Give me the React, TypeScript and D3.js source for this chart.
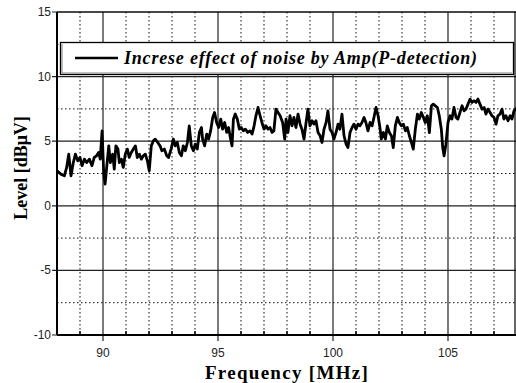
import { useRef, useEffect } from "react";
import * as d3 from "d3";

// Frequency [MHz] and level [dBµV]
const freq = [
  88.0, 88.17, 88.32, 88.42, 88.51, 88.61, 88.71, 88.80, 88.90, 89.0,
  89.09, 89.19, 89.29, 89.41, 89.52, 89.62, 89.72, 89.81, 89.88, 89.96,
  90.03, 90.09, 90.16, 90.25, 90.32, 90.42, 90.49, 90.56, 90.65, 90.71,
  90.80, 90.88, 90.97, 91.06, 91.14, 91.23, 91.32, 91.41, 91.49, 91.58,
  91.67, 91.75, 91.84, 91.93, 92.01, 92.10, 92.19, 92.27, 92.38, 92.48,
  92.56, 92.67, 92.77, 92.85, 92.96, 93.06, 93.14, 93.23, 93.32, 93.41,
  93.49, 93.58, 93.67, 93.75, 93.84, 93.93, 94.01, 94.10, 94.19, 94.28,
  94.33, 94.42, 94.51, 94.59, 94.68, 94.77, 94.85, 94.94, 95.03, 95.12,
  95.20, 95.29, 95.38, 95.46, 95.55, 95.61, 95.67, 95.75, 95.84, 95.93,
  96.01, 96.10, 96.19, 96.29, 96.39, 96.48, 96.57, 96.65, 96.74, 96.83,
  96.91, 97.0, 97.09, 97.17, 97.26, 97.35, 97.43, 97.52, 97.61, 97.70,
  97.81, 97.90, 97.96, 98.04, 98.13, 98.22, 98.30, 98.39, 98.48, 98.57,
  98.65, 98.74, 98.83, 98.91, 99.0, 99.09, 99.17, 99.26, 99.35, 99.44,
  99.52, 99.61, 99.70, 99.78, 99.87, 99.96, 100.04, 100.13, 100.22, 100.30,
  100.39, 100.48, 100.57, 100.65, 100.74, 100.83, 100.91, 101.0, 101.09, 101.17,
  101.26, 101.35, 101.43, 101.52, 101.61, 101.70, 101.78, 101.87, 101.96, 102.04,
  102.10, 102.19, 102.28, 102.36, 102.45, 102.54, 102.62, 102.71, 102.80, 102.88,
  102.97, 103.06, 103.15, 103.23, 103.32, 103.41, 103.49, 103.58, 103.67, 103.75,
  103.84, 103.93, 104.01, 104.10, 104.19, 104.28, 104.36, 104.45, 104.54, 104.62,
  104.71, 104.77, 104.83, 104.91, 105.0, 105.09, 105.17, 105.26, 105.35, 105.43,
  105.52, 105.61, 105.70, 105.78, 105.87, 105.96, 106.04, 106.13, 106.22, 106.30,
  106.39, 106.48, 106.57, 106.65, 106.74, 106.83, 106.91, 107.0, 107.09, 107.17,
  107.26, 107.35, 107.43, 107.52, 107.61, 107.70, 107.78, 107.87, 108.0,
];
const level = [
  2.71, 2.45, 2.32, 2.97, 4.0, 2.32, 3.35, 4.0, 3.48, 3.74,
  3.10, 3.61, 3.35, 3.61, 3.10, 3.74, 3.87, 4.13, 3.61, 5.80,
  2.58, 1.68, 2.97, 4.64, 3.35, 4.0, 2.84, 4.64, 4.39, 3.35,
  3.61, 2.97, 4.0, 4.39, 3.74, 4.13, 4.39, 4.64, 3.74, 4.0,
  3.61, 3.87, 4.0, 3.48, 2.71, 4.64, 5.03, 5.16, 4.90, 4.64,
  4.26, 4.39, 3.87, 3.74, 4.39, 5.16, 4.64, 4.90, 4.13, 3.87,
  4.64, 4.26, 4.90, 6.19, 4.64, 4.26, 4.77, 4.39, 5.68, 6.06,
  5.16, 4.64, 5.55, 5.16, 5.80, 6.84, 7.22, 6.45, 6.06, 6.71,
  5.93, 6.45, 5.68, 6.06, 5.16, 4.64, 6.71, 7.10, 6.71, 5.93,
  6.06, 5.80, 5.93, 5.68, 5.80, 5.55, 6.19, 6.97, 7.61, 6.97,
  6.45, 5.93, 6.19, 5.93, 6.06, 5.68, 5.80, 7.48, 7.22, 6.97,
  6.45, 5.16, 6.71, 5.67, 6.97, 6.19, 6.84, 6.06, 7.10, 6.32,
  5.93, 5.16, 6.45, 7.48, 6.19, 6.58, 6.32, 6.58, 5.67, 5.42,
  4.90, 5.93, 6.45, 7.35, 5.93, 5.67, 5.16, 5.67, 6.32, 5.93,
  7.10, 5.42, 4.77, 4.51, 5.67, 6.06, 6.32, 5.93, 6.32, 6.19,
  6.45, 6.84, 6.45, 5.80, 6.45, 6.19, 6.84, 7.61, 6.97, 6.06,
  5.16, 5.67, 5.16, 6.19, 5.67, 5.42, 4.51, 6.19, 6.84, 6.45,
  6.19, 6.32, 5.80, 6.06, 5.42, 4.90, 4.39, 5.93, 7.10, 6.71,
  7.22, 6.84, 6.45, 6.97, 5.67, 7.74, 7.87, 7.74, 7.61, 6.97,
  5.93, 4.51, 3.87, 4.77, 6.45, 6.97, 6.71, 7.61, 6.84, 6.71,
  7.22, 7.74, 7.35, 7.48, 7.87, 8.26, 8.0, 8.13, 8.0, 8.26,
  7.87, 7.48, 7.61, 7.10, 7.48, 7.22, 6.97, 6.84, 6.32, 6.97,
  7.10, 7.48, 6.71, 6.97, 6.58, 6.97, 6.71, 7.35, 7.6,
];

const xMajor = [90, 95, 100, 105];
const xMinor = [89, 91, 92, 93, 94, 96, 97, 98, 99, 101, 102, 103, 104, 106, 107];
const yMajor = [-10, -5, 0, 5, 10, 15];
const yMinor = [-7.5, -2.5, 2.5, 7.5, 12.5];
const legendLabel = "Increse effect of noise by Amp(P-detection)";

export default function App() {
  const svgRef = useRef<SVGSVGElement>(null);
  const W = 516;
  const H = 383;

  useEffect(() => {
    if (!svgRef.current) return;
    const svg = d3.select(svgRef.current);
    svg.selectAll("*").remove();

    const left = 57, right = 517, top = 12, bottom = 335;
    const x = d3.scaleLinear().domain([88, 108]).range([left, right]);
    const y = d3.scaleLinear().domain([-10, 15]).range([bottom, top]);

    svg.append("rect").attr("width", W).attr("height", H).attr("fill", "#fff");

    const g = svg.append("g");

    // dotted minor grid
    g.selectAll(".vmin").data(xMinor).join("line")
      .attr("x1", d => x(d)).attr("x2", d => x(d)).attr("y1", top).attr("y2", bottom)
      .attr("stroke", "#111").attr("stroke-width", 1).attr("stroke-dasharray", "1.5,2.5");
    g.selectAll(".hmin").data(yMinor).join("line")
      .attr("x1", left).attr("x2", right).attr("y1", d => y(d)).attr("y2", d => y(d))
      .attr("stroke", "#111").attr("stroke-width", 1).attr("stroke-dasharray", "1.5,2.5");

    // solid major grid
    g.selectAll(".vmaj").data(xMajor).join("line")
      .attr("x1", d => x(d)).attr("x2", d => x(d)).attr("y1", top).attr("y2", bottom + 6)
      .attr("stroke", "#222").attr("stroke-width", 1.2);
    g.selectAll(".hmaj").data(yMajor).join("line")
      .attr("x1", left - 5).attr("x2", right).attr("y1", d => y(d)).attr("y2", d => y(d))
      .attr("stroke", "#222").attr("stroke-width", 1.2);

    // minor ticks on bottom axis (inward)
    g.selectAll(".xt").data(xMinor).join("line")
      .attr("x1", d => x(d)).attr("x2", d => x(d)).attr("y1", bottom).attr("y2", bottom - 4)
      .attr("stroke", "#000").attr("stroke-width", 1.5);

    // frame
    g.append("line").attr("x1", left).attr("x2", left).attr("y1", top).attr("y2", bottom)
      .attr("stroke", "#000").attr("stroke-width", 2);
    g.append("line").attr("x1", left).attr("x2", right).attr("y1", bottom).attr("y2", bottom)
      .attr("stroke", "#000").attr("stroke-width", 2);
    g.append("line").attr("x1", left).attr("x2", right).attr("y1", top).attr("y2", top)
      .attr("stroke", "#000").attr("stroke-width", 1.2);
    g.append("line").attr("x1", W - 1).attr("x2", W - 1).attr("y1", top).attr("y2", bottom)
      .attr("stroke", "#000").attr("stroke-width", 1.2);

    // tick labels
    g.selectAll(".yl").data(yMajor).join("text")
      .attr("x", left - 6).attr("y", d => y(d) + 4)
      .attr("text-anchor", "end").attr("font-family", "Liberation Sans, Arial, sans-serif")
      .attr("font-size", 12).attr("fill", "#222").text(d => d);
    g.selectAll(".xl").data(xMajor).join("text")
      .attr("x", d => x(d)).attr("y", bottom + 22)
      .attr("text-anchor", "middle").attr("font-family", "Liberation Sans, Arial, sans-serif")
      .attr("font-size", 12).attr("fill", "#222").text(d => d);

    // axis titles
    svg.append("text").attr("x", 287).attr("y", 379)
      .attr("text-anchor", "middle").attr("font-family", "Liberation Serif, Times New Roman, serif")
      .attr("font-weight", "bold").attr("font-size", 19).attr("letter-spacing", 1.3).attr("fill", "#000")
      .text("Frequency [MHz]");
    svg.append("text").attr("transform", "translate(27,168) rotate(-90)")
      .attr("text-anchor", "middle").attr("font-family", "Liberation Serif, Times New Roman, serif")
      .attr("font-weight", "bold").attr("font-size", 18).attr("fill", "#000")
      .text("Level [dBμV]");

    // trace
    const pts = freq.map((f, i) => [f, level[i]] as [number, number]);
    const line = d3.line<[number, number]>().x(d => x(d[0])).y(d => y(d[1]));
    g.append("path").datum(pts).attr("d", line)
      .attr("fill", "none").attr("stroke", "#000").attr("stroke-width", 2.8)
      .attr("stroke-linejoin", "round");

    // legend
    const lg = svg.append("g");
    lg.append("rect").attr("x", 60.5).attr("y", 42.5).attr("width", 453).attr("height", 32)
      .attr("fill", "#fff").attr("stroke", "#000").attr("stroke-width", 1.3);
    lg.append("line").attr("x1", 62).attr("x2", 62).attr("y1", 44).attr("y2", 73)
      .attr("stroke", "#666").attr("stroke-width", 0.8);
    lg.append("line").attr("x1", 62).attr("x2", 512).attr("y1", 73).attr("y2", 73)
      .attr("stroke", "#666").attr("stroke-width", 0.8);
    lg.append("line").attr("x1", 75).attr("x2", 118).attr("y1", 58).attr("y2", 58)
      .attr("stroke", "#000").attr("stroke-width", 2.6);
    lg.append("text").attr("x", 124).attr("y", 64)
      .attr("font-family", "Liberation Serif, Times New Roman, serif")
      .attr("font-weight", "bold").attr("font-style", "italic").attr("font-size", 18)
      .attr("letter-spacing", 0.8).attr("fill", "#000").text(legendLabel);
  }, []);

  return (
    <div style={{ position: "absolute", left: 0, top: 0 }}>
      <svg ref={svgRef} width={W} height={H} style={{ display: "block" }} />
    </div>
  );
}
